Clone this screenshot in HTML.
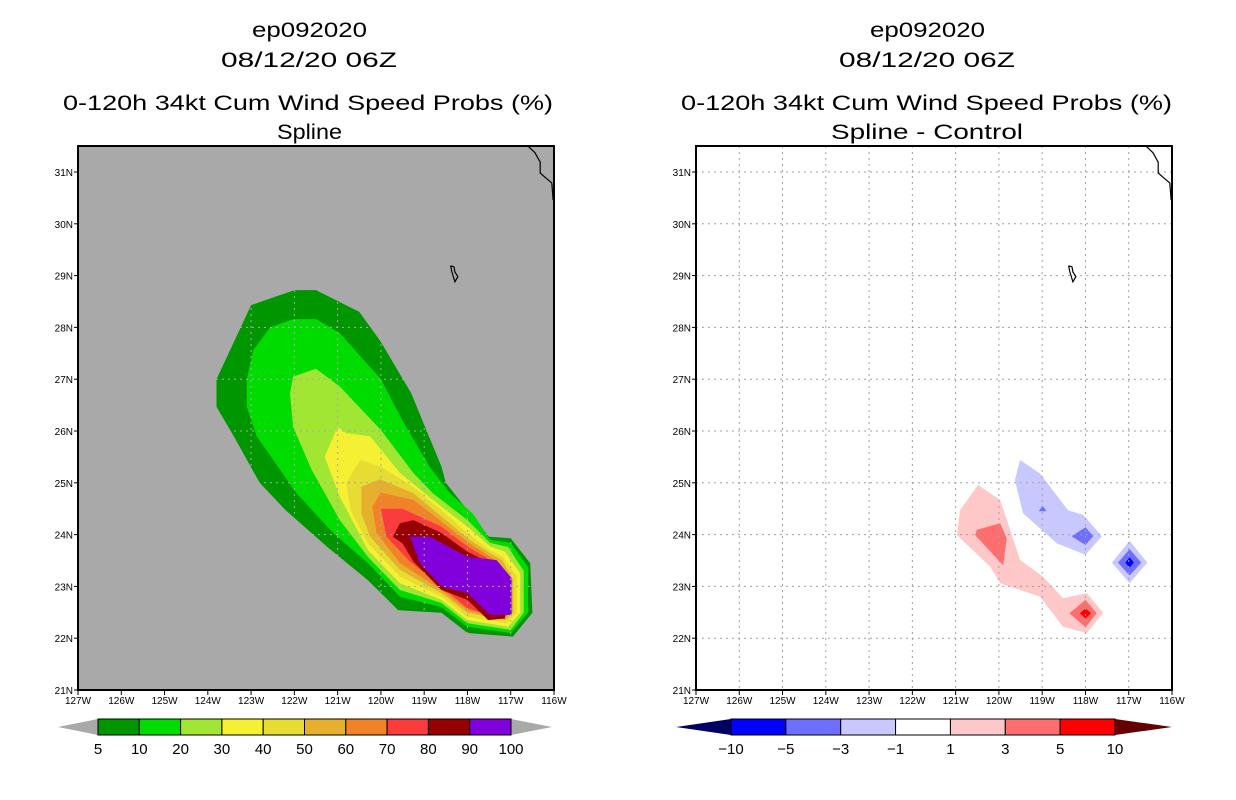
<!DOCTYPE html>
<html><head><meta charset="utf-8"><style>
body{margin:0;background:#fff;}
svg{display:block;font-family:"Liberation Sans",sans-serif;}
</style></head><body>
<svg id="c" width="1236" height="800" viewBox="0 0 1236 800" xmlns="http://www.w3.org/2000/svg"></svg>
<script>
// ---- data ----
const lonTicks=[127,126,125,124,123,122,121,120,119,118,117,116];
const latTicks=[21,22,23,24,25,26,27,28,29,30,31];
const probLevels=["5","10","20","30","40","50","60","70","80","90","100"];
const probColors=["#009600","#00dc00","#a0e632","#f5f032","#e6dc32","#e6af2d","#f08228","#fa3c3c","#960000","#8200dc"];
const diffLevels=["-10","-5","-3","-1","1","3","5","10"];
const diffColors=["#0000ff","#6e6eff","#c8c8ff","#ffffff","#ffc8c8","#ff6e6e","#ff0000"];
const prob5=[[123.8,27.0],[123.0,28.43],[122.0,28.72],[121.5,28.72],[120.5,28.3],[120.0,27.72],[119.3,26.73],[118.6,25.31],[118.5,25.0],[118.0,24.47],[117.5,23.96],[117.0,23.93],[116.55,23.45],[116.5,22.49],[116.95,22.03],[118.0,22.1],[118.6,22.49],[119.6,22.54],[120.3,23.12],[121.25,23.77],[122.2,24.47],[122.8,25.0],[123.4,25.9],[123.8,26.47]];
const prob10=[[123.1,27.0],[122.95,27.56],[122.56,28.0],[122.03,28.16],[121.5,28.16],[120.95,27.89],[120.0,27.0],[119.5,26.2],[118.87,25.3],[118.4,24.8],[117.87,24.4],[117.48,23.9],[117.0,23.84],[116.6,23.37],[116.6,22.49],[117.0,22.1],[118.0,22.22],[118.6,22.6],[119.56,22.8],[120.3,23.45],[121.1,24.03],[121.95,24.8],[122.87,25.9],[123.1,26.47]];
const prob20=[[122.1,26.73],[122.03,27.05],[121.5,27.2],[120.95,26.86],[120.0,26.02],[119.25,25.19],[118.8,24.8],[118.0,24.28],[117.48,23.84],[117.06,23.76],[116.7,23.3],[116.7,22.49],[117.0,22.16],[118.0,22.29],[118.6,22.68],[119.56,22.93],[120.3,23.57],[120.95,24.28],[121.6,25.25],[122.03,26.08]];
const prob30=[[121.3,25.5],[121.0,26.08],[120.8,25.96],[120.25,25.9],[119.56,25.19],[118.8,24.67],[118.0,24.15],[117.48,23.77],[117.13,23.67],[116.78,23.25],[116.78,22.49],[117.06,22.22],[118.0,22.35],[118.6,22.74],[119.56,23.06],[120.3,23.7],[120.95,24.73]];
const prob40=[[120.8,25.0],[120.48,25.44],[119.98,25.3],[119.25,24.92],[118.6,24.47],[118.0,24.03],[117.48,23.7],[117.18,23.57],[116.86,23.19],[116.86,22.49],[117.1,22.29],[118.0,22.41],[118.6,22.8],[119.56,23.19],[120.3,23.83],[120.7,24.47]];
const prob50=[[120.45,24.92],[120.02,25.07],[119.25,24.8],[118.6,24.35],[118.0,23.93],[117.48,23.64],[117.2,23.51],[116.94,23.12],[116.94,22.49],[117.13,22.35],[118.0,22.49],[118.6,22.87],[119.56,23.32],[120.25,23.96],[120.45,24.41]];
const prob60=[[120.2,24.54],[120.0,24.81],[119.25,24.67],[118.6,24.25],[118.0,23.86],[117.48,23.57],[117.25,23.45],[117.02,23.09],[117.02,22.49],[117.2,22.38],[118.0,22.54],[118.6,22.93],[119.56,23.45],[120.1,24.03]];
const prob70=[[120.0,24.5],[119.5,24.5],[118.6,24.15],[118.0,23.77],[117.48,23.51],[117.3,23.38],[117.06,23.06],[117.06,22.45],[117.25,22.38],[118.0,22.58],[118.6,23.0],[119.33,23.48],[119.87,23.96]];
const prob80=[[119.72,23.96],[119.56,24.22],[119.25,24.28],[118.6,24.03],[118.0,23.67],[117.48,23.45],[117.33,23.35],[117.13,23.03],[117.13,22.38],[117.52,22.35],[118.0,22.74],[118.6,22.93],[119.25,23.48],[119.5,23.83]];
const prob90=[[119.33,23.96],[118.87,23.96],[118.0,23.57],[117.33,23.51],[116.98,23.16],[116.98,22.45],[117.48,22.45],[118.0,22.87],[118.6,23.0],[119.1,23.45]];
const diffPos1=[[120.97,23.99],[120.9,24.47],[120.48,24.96],[119.97,24.67],[119.51,23.51],[118.98,23.19],[118.52,22.77],[117.97,22.87],[117.59,22.49],[117.97,22.1],[118.52,22.22],[119.05,22.8],[119.97,23.06],[120.2,23.38]];
const diffPos3a=[[120.55,23.99],[120.51,24.09],[119.97,24.22],[119.82,23.93],[119.9,23.41]];
const diffPos3b=[[118.37,22.48],[118.0,22.74],[117.74,22.48],[118.0,22.21]];
const diffPos5=[[118.13,22.48],[118.0,22.58],[117.87,22.48],[118.0,22.38]];
const diffNeg1a=[[119.51,25.44],[119.05,25.18],[118.4,24.47],[118.05,24.38],[117.62,23.97],[118.0,23.61],[118.66,23.83],[119.44,24.41],[119.63,25.05]];
const diffNeg1b=[[117.39,23.46],[116.98,23.88],[116.57,23.46],[116.98,23.06]];
const diffNeg3a=[[118.32,23.97],[118.0,24.14],[117.82,23.97],[118.0,23.8]];
const diffNeg3b=[[119.08,24.45],[118.99,24.56],[118.9,24.45]];
const diffNeg3c=[[117.25,23.46],[116.98,23.72],[116.71,23.46],[116.98,23.21]];
const diffNeg5=[[117.08,23.46],[116.98,23.56],[116.88,23.46],[116.98,23.36]];
const coast=[[116.6,31.5],[116.44,31.37],[116.32,31.19],[116.32,30.98],[116.21,30.9],[116.05,30.79],[116.02,30.46]];
const island=[[118.39,29.19],[118.31,29.17],[118.29,29.07],[118.22,28.98],[118.29,28.88],[118.36,29.07],[118.39,29.19]];

// ---- layout ----
const svg=document.getElementById('c');
const NS='http://www.w3.org/2000/svg';
function mk(tag,attrs,parent){const e=document.createElementNS(NS,tag);for(const k in attrs)e.setAttribute(k,attrs[k]);(parent||svg).appendChild(e);return e;}
const W=476/11, H=51.8;
function xs(ox,lon){return ox+(127-lon)*W;}
function ys(lat){return 690-(lat-21)*H;}
function pts(ox,arr){return arr.map(p=>xs(ox,p[0]).toFixed(1)+','+ys(p[1]).toFixed(1)).join(' ');}

function panel(ox,bg,gridColor,name,titles,fills){
  const g=mk('g',{});
  
  
  const r=mk('rect',{x:ox,y:146,width:476,height:544,fill:bg},g);
  
  
  fills.forEach(f=>{
    const p=mk('polygon',{points:pts(ox,f[0]),fill:f[1]},g);
    
    
  });
  lonTicks.slice(1,-1).forEach(l=>{
    const ln=mk('line',{x1:xs(ox,l),x2:xs(ox,l),y1:146,y2:690,stroke:gridColor,'stroke-dasharray':'2,4'},g);
    
    
  });
  latTicks.slice(1).forEach(l=>{
    const ln=mk('line',{x1:ox,x2:ox+476,y1:ys(l),y2:ys(l),stroke:gridColor,'stroke-dasharray':'2,4'},g);
    
    
  });
  const c1=mk('polyline',{points:pts(ox,coast),fill:'none',stroke:'#000','stroke-width':1.2},g);
  
  
  const c2=mk('polyline',{points:pts(ox,island),fill:'none',stroke:'#000','stroke-width':1.2},g);
  
  
  const fr=mk('rect',{x:ox,y:146,width:476,height:544,fill:'none',stroke:'#000','stroke-width':2},g);
  
  
  lonTicks.forEach(l=>{
    const x=xs(ox,l);
    mk('line',{x1:x,x2:x,y1:690,y2:695,stroke:'#000'},g);
    const t=mk('text',{x:x,y:704,'font-size':10,'text-anchor':'middle'},g);
    t.textContent=l+'W';
    
    
  });
  latTicks.forEach(l=>{
    const y=ys(l);
    mk('line',{x1:ox-4,x2:ox,y1:y,y2:y,stroke:'#000'},g);
    const t=mk('text',{x:ox-5,y:y+4,'font-size':10,'text-anchor':'end'},g);
    t.textContent=l+'N';
    
    
  });
  titles.forEach(tt=>{
    const t=mk('text',{x:tt[1],y:tt[2],'font-size':21,textLength:tt[3],lengthAdjust:'spacingAndGlyphs'},g);
    t.textContent=tt[0];
    
    
  });
}

panel(78,'#a9a9a9','#aaaaaa','left-map-panel',
 [['ep092020',252,37,115,'storm-id-title'],['08/12/20 06Z',221,67,176,'date-title'],['0-120h 34kt Cum Wind Speed Probs (%)',63,110,490,'main-title'],['Spline',277,139,65,'subtitle']],
 [[prob5,probColors[0],'contour-5'],[prob10,probColors[1],'contour-10'],[prob20,probColors[2],'contour-20'],[prob30,probColors[3],'contour-30'],[prob40,probColors[4],'contour-40'],[prob50,probColors[5],'contour-50'],[prob60,probColors[6],'contour-60'],[prob70,probColors[7],'contour-70'],[prob80,probColors[8],'contour-80'],[prob90,probColors[9],'contour-90']]);

panel(696,'#ffffff','#a0a0a0','right-map-panel',
 [['ep092020',870,37,115,'storm-id-title'],['08/12/20 06Z',839,67,176,'date-title'],['0-120h 34kt Cum Wind Speed Probs (%)',681,110,491,'main-title'],['Spline - Control',831,139,192,'subtitle']],
 [[diffPos1,diffColors[4],'diff-pos-1'],[diffPos3a,diffColors[5],'diff-pos-3a'],[diffPos3b,diffColors[5],'diff-pos-3b'],[diffPos5,diffColors[6],'diff-pos-5'],[diffNeg1a,diffColors[2],'diff-neg-1a'],[diffNeg1b,diffColors[2],'diff-neg-1b'],[diffNeg3a,diffColors[1],'diff-neg-3a'],[diffNeg3b,diffColors[1],'diff-neg-3b'],[diffNeg3c,diffColors[1],'diff-neg-3c'],[diffNeg5,diffColors[0],'diff-neg-5']]);

function colorbar(x0,x1,t0,t1,colors,lowTri,highTri,labels,name){
  const g=mk('g',{});
  
  
  const y0=719,y1=735,ym=727;
  const a=mk('polygon',{points:`${t0},${ym} ${x0},${y0} ${x0},${y1}`,fill:lowTri},g);
  
  
  const b=mk('polygon',{points:`${t1},${ym} ${x1},${y0} ${x1},${y1}`,fill:highTri},g);
  
  
  const bw=(x1-x0)/colors.length;
  colors.forEach((c,i)=>{
    const r=mk('rect',{x:x0+i*bw,y:y0,width:bw,height:y1-y0,fill:c,stroke:'#000','stroke-width':1},g);
    
    
  });
  labels.forEach((l,i)=>{
    const t=mk('text',{x:x0+i*bw,y:754,'font-size':15,'text-anchor':'middle'},g);
    t.textContent=l.replace('-','\u2212');
    
    
  });
}
colorbar(98,511,58,552,probColors,'#a9a9a9','#a9a9a9',probLevels,'prob-colorbar');
colorbar(731,1115,676,1172,diffColors,'#000064','#640000',diffLevels,'diff-colorbar');
</script>
</body></html>
